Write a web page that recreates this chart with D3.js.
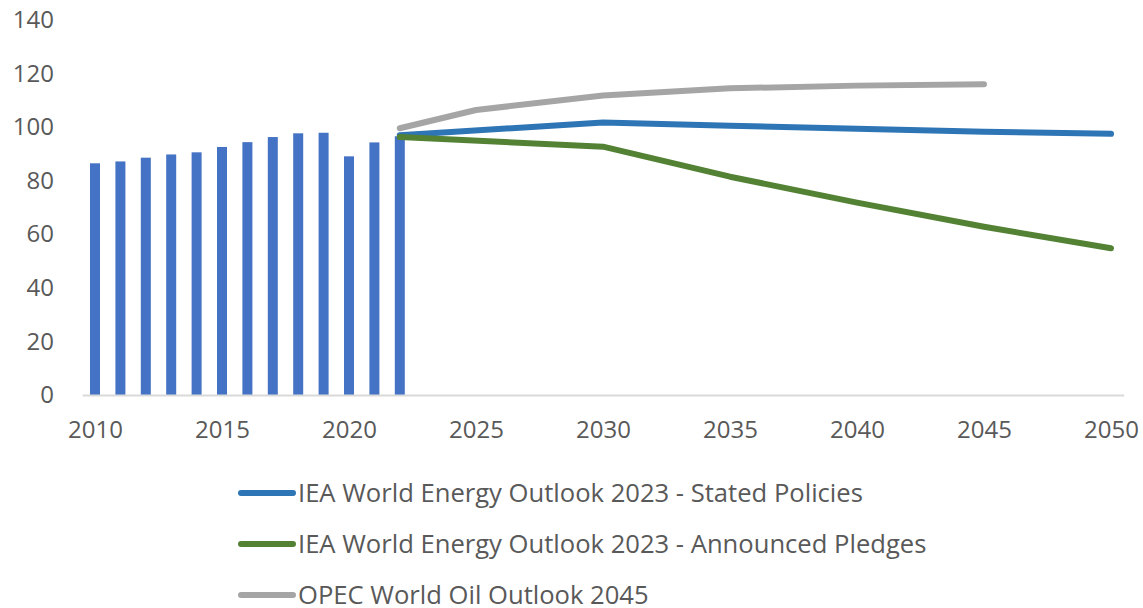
<!DOCTYPE html>
<html>
<head>
<meta charset="utf-8">
<script src="https://cdn.jsdelivr.net/npm/d3@7"></script>
<style>
  html, body { margin: 0; padding: 0; background: #fff; }
  svg { display: block; font-family: "Open Sans", "Noto Sans", sans-serif; }
</style>
</head>
<body>
<svg id="chart" width="1143" height="608"></svg>
<script>
// Historical oil demand (bars)
const histYears = [2010, 2011, 2012, 2013, 2014, 2015, 2016, 2017, 2018, 2019, 2020, 2021, 2022];
const histValues = [86.5, 87.2, 88.6, 89.8, 90.6, 92.6, 94.4, 96.3, 97.7, 97.9, 89.1, 94.3, 96.6];

// Outlook scenarios (lines)
const statedYears = [2022, 2030, 2035, 2040, 2045, 2050];
const statedValues = [97.0, 101.7, 100.5, 99.4, 98.3, 97.5];

const pledgesYears = [2022, 2030, 2035, 2040, 2045, 2050];
const pledgesValues = [96.3, 92.7, 81.5, 71.8, 62.8, 54.8];

const opecYears = [2022, 2025, 2030, 2035, 2040, 2045];
const opecValues = [99.6, 106.4, 111.8, 114.5, 115.5, 116.0];

const seriesNames = [
  "IEA World Energy Outlook 2023 - Stated Policies",
  "IEA World Energy Outlook 2023 - Announced Pledges",
  "OPEC World Oil Outlook 2045"
];
const seriesColors = ["#2E75B6", "#548235", "#A5A5A5"];

const xTicks = [2010, 2015, 2020, 2025, 2030, 2035, 2040, 2045, 2050];
const yTicks = [0, 20, 40, 60, 80, 100, 120, 140];

const svg = d3.select("#chart");
const textColor = "#595959";

const x = d3.scaleLinear().domain([2009.5, 2050.5]).range([82.3, 1123.7]);
const y = d3.scaleLinear().domain([0, 140]).range([395, 20]);

// Y axis labels
const yAxis = d3.axisLeft(y).tickValues(yTicks).tickSize(0).tickPadding(0);
const gy = svg.append("g").attr("transform", "translate(54,0)").call(yAxis);
gy.select(".domain").remove();
gy.selectAll("text")
  .attr("fill", textColor)
  .style("font-size", "24px")
  .style("font-family", "'Open Sans', 'Noto Sans', sans-serif");

// Bars
const barW = 10;
svg.append("g").selectAll("rect")
  .data(histYears.map((yr, i) => ({ yr, v: histValues[i] })))
  .join("rect")
  .attr("x", d => x(d.yr) - barW / 2)
  .attr("y", d => y(d.v))
  .attr("width", barW)
  .attr("height", d => y(0) - y(d.v))
  .attr("fill", "#4472C4");

// X axis
const xAxis = d3.axisBottom(x).tickValues(xTicks).tickFormat(d3.format("d")).tickSize(0).tickPadding(26);
const gx = svg.append("g").attr("transform", `translate(0,${y(0)})`).call(xAxis);
gx.select(".domain").attr("stroke", "#D9D9D9").attr("stroke-width", 2);
gx.selectAll("text")
  .attr("fill", textColor)
  .style("font-size", "24px")
  .style("font-family", "'Open Sans', 'Noto Sans', sans-serif");

// Lines
const line = d3.line().x(d => x(d[0])).y(d => y(d[1]));
const lineSets = [
  d3.zip(statedYears, statedValues),
  d3.zip(pledgesYears, pledgesValues),
  d3.zip(opecYears, opecValues)
];
// draw OPEC first, then stated, then pledges on top
[2, 0, 1].forEach(i => {
  svg.append("path")
    .datum(lineSets[i])
    .attr("d", line)
    .attr("fill", "none")
    .attr("stroke", seriesColors[i])
    .attr("stroke-width", 6)
    .attr("stroke-linecap", "round")
    .attr("stroke-linejoin", "round");
});

// Legend
const legend = svg.append("g");
const legendRows = [493, 544, 595];
seriesNames.forEach((name, i) => {
  const g = legend.append("g").attr("transform", `translate(0,${legendRows[i]})`);
  g.append("line")
    .attr("x1", 241).attr("x2", 293)
    .attr("y1", 0).attr("y2", 0)
    .attr("stroke", seriesColors[i])
    .attr("stroke-width", 6)
    .attr("stroke-linecap", "round");
  g.append("text")
    .attr("x", 298)
    .attr("y", 0)
    .attr("dy", "0.35em")
    .attr("fill", textColor)
    .style("font-size", "25.6px")
    .text(name);
});
</script>
</body>
</html>
